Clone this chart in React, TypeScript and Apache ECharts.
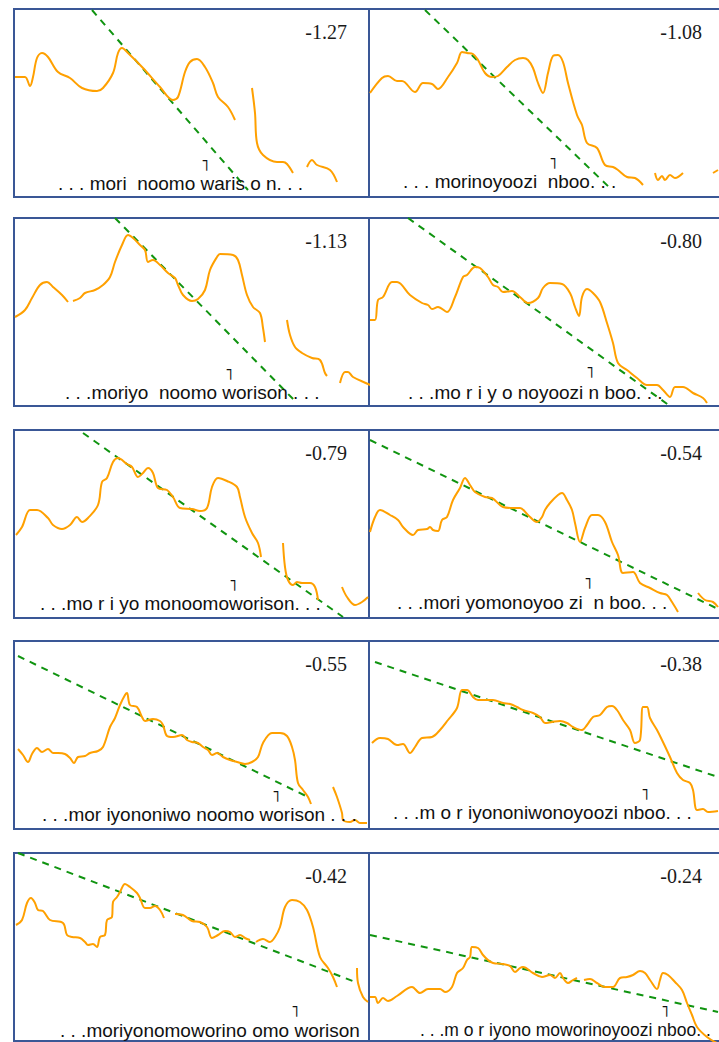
import React, { useEffect, useRef } from "react";
import * as echarts from "echarts";

// panel-local units: x = time step, y = pitch height above panel floor
const contour1 = [
  [[1,120],[11,120],[16,111],[19,120],[23,139],[28,144],[34,140],[44,125],[56,119],[68,109],[83,106],[89,109],[99,124],[104,144],[108,149],[114,144],[129,129],[146,110],[159,97],[164,100],[171,125],[176,135],[183,138],[191,130],[199,114],[204,100],[214,90],[221,77]],
  [[238,109],[241,84],[243,54],[249,42],[263,35],[269,35],[273,33],[279,24]],
  [[293,30],[298,37],[303,32],[316,27],[323,15]],
];
const trend1 = [[78,187],[234,7]];

const contour2 = [
  [[1,104],[13,119],[19,121],[28,116],[33,116],[46,105],[54,114],[63,113],[69,108],[79,120],[88,134],[93,145],[98,144],[104,143],[109,137],[116,124],[123,120],[129,121],[138,130],[146,137],[154,139],[159,137],[164,129],[169,114],[174,104],[179,124],[184,141],[189,142],[194,135],[199,114],[208,82],[213,72],[218,54],[228,49],[236,32],[244,30],[249,27],[258,20],[266,19],[274,12]],
  [[286,24],[289,17],[293,21],[296,17],[301,22],[306,19],[314,24]],
  [[344,24],[349,27]],
];
const trend2 = [[56,187],[243,7]];

const contour3 = [
  [[1,89],[11,96],[18,108],[26,121],[33,124],[39,119],[48,111],[54,104]],
  [[59,105],[66,108],[71,113],[81,116],[89,121],[96,129],[101,144],[108,161],[114,171],[119,168],[126,161],[131,156],[134,144],[139,146],[146,141],[154,133],[161,128],[164,121],[169,111],[178,105],[184,107],[191,116],[196,136],[203,149],[206,152],[219,151],[224,146],[228,131],[233,111],[239,99],[246,93],[249,78],[251,64]],
  [[273,86],[276,71],[281,59],[288,53],[298,48],[306,46],[311,33],[313,30]],
  [[326,23],[331,34],[334,34],[339,29],[354,22],[362,18]],
];
const trend3 = [[101,188],[283,3]];

const contour4 = [
  [[1,86],[6,86],[9,106],[14,109],[23,124],[28,124],[41,111],[53,103],[59,101],[63,97],[69,99],[78,94],[86,109],[94,129],[98,131],[106,139],[111,138],[119,129],[124,121],[129,119],[134,114],[143,115],[151,109],[159,103],[169,108],[174,118],[181,123],[193,122],[201,113],[206,99],[210,90],[213,109],[218,117],[224,113],[231,104],[238,83],[244,63],[249,43],[258,36],[268,28],[278,21],[288,21],[294,16],[301,9],[306,19],[314,19],[324,13],[334,8],[338,3]],
];
const trend4 = [[39,188],[301,0]];

const contour5 = [
  [[2,83],[8,91],[16,108],[23,108],[34,100],[39,93],[48,89],[56,93],[63,101],[68,96],[74,100],[84,113],[88,136],[93,140],[99,156],[104,160],[113,154],[118,151],[124,141],[129,145],[134,150],[139,145],[144,130],[153,128],[159,121],[166,110],[178,109],[186,107],[193,110],[198,131],[204,140],[213,137],[223,131],[226,121],[231,101],[238,85],[244,75],[247,61]],
  [[269,75],[271,51],[274,38],[279,33],[283,36],[288,35],[296,35],[301,31],[304,18]],
  [[328,31],[333,21],[341,13],[348,16],[354,21]],
];
const trend5 = [[69,185],[329,1]];

const contour6 = [
  [[1,86],[6,101],[11,108],[21,103],[29,98],[34,91],[44,83],[49,88],[58,89],[61,91],[64,88],[69,87],[73,98],[78,101],[84,118],[91,130],[96,140],[101,133],[106,126],[116,121],[123,120],[134,111],[144,110],[151,110],[159,103],[168,96],[173,101],[176,108],[181,115],[189,123],[193,125],[198,118],[203,108],[206,95],[211,76],[216,90],[223,103],[229,103],[236,96],[243,76],[249,63],[254,45],[264,46],[271,35],[281,30],[291,25],[298,23],[303,16],[309,6]],
  [[329,25],[336,18],[344,16],[349,11]],
];
const trend6 = [[1,178],[349,9]];

const contour7 = [
  [[4,80],[9,74],[14,67],[18,75],[23,81],[28,77],[34,80],[39,76],[44,76],[51,75],[56,71],[60,66],[64,72],[71,73],[76,76],[84,78],[89,82],[96,102],[101,111],[106,124],[111,134],[113,136],[116,124],[123,122],[128,112],[131,108],[139,110],[146,108],[149,104],[153,93],[159,92],[168,94],[173,89],[178,87],[184,86],[189,82],[194,79],[198,74],[203,76],[209,72],[216,69],[223,67],[231,65],[238,67],[244,72],[249,86],[258,96],[266,96],[273,93],[278,82],[281,69],[284,46],[289,39],[294,32],[297,25]],
  [[319,42],[323,32],[328,16],[329,9],[336,7],[341,9],[346,6],[353,6]],
];
const trend7 = [[4,173],[294,32]];

const contour8 = [
  [[3,86],[11,91],[19,90],[28,84],[34,85],[41,76],[46,82],[53,91],[63,92],[71,99],[79,109],[88,121],[93,139],[98,139],[104,132],[109,129],[124,129],[134,126],[141,125],[148,122],[154,119],[164,116],[171,112],[176,106],[183,107],[191,108],[198,106],[204,102],[213,99],[218,104],[224,112],[231,114],[238,122],[243,123],[248,119],[254,109],[261,99],[266,86],[271,89],[274,122],[278,122],[281,111],[288,99],[293,89],[301,72],[308,56],[314,49],[321,46],[324,39],[328,19],[334,20],[339,17],[349,18]],
];
const trend8 = [[6,167],[349,52]];

const contour9 = [
  [[2,116],[8,121],[13,138],[17,143],[21,138],[24,131],[29,130],[36,121],[49,118],[53,106],[58,104],[66,103],[71,99],[74,96],[79,97],[83,94],[86,104],[91,106],[93,121],[98,124],[99,139],[103,144],[106,149],[111,157],[116,154],[123,148],[126,143],[131,133],[136,133],[141,135],[146,131],[150,123]],
  [[161,127],[169,126],[178,120],[186,119],[193,114],[198,103],[204,106],[211,110],[216,109],[221,104],[226,106],[231,103],[236,101]],
  [[242,99],[249,102],[256,99],[261,104],[266,114],[271,134],[278,141],[286,139],[293,131],[299,114],[306,84],[314,73],[319,64],[323,54]],
  [[343,73],[344,58],[349,44],[354,39]],
];
const trend9 = [[4,188],[344,58]];

const contour10 = [
  [[1,44],[6,44],[9,38],[14,43],[19,40],[28,45],[43,54],[51,48],[59,52],[71,52],[76,49],[83,54],[88,68],[94,73],[98,81],[101,84],[103,94],[109,93],[114,86],[119,81],[124,78],[134,77],[141,75],[146,69],[151,73],[154,74],[164,68],[173,64],[181,66],[186,63],[191,68],[194,63],[199,58],[204,61],[208,63]],
  [[215,61],[221,62],[228,58],[236,54],[244,54],[251,63],[258,64],[264,66],[271,70],[276,68],[281,61],[288,52],[291,61],[294,68],[299,66],[306,59],[313,51],[318,38],[323,26],[328,14],[338,4],[348,-2]],
];
const trend10 = [[1,106],[349,29]];

const contours = [contour1, contour2, contour3, contour4, contour5, contour6, contour7, contour8, contour9, contour10];
const trends = [trend1, trend2, trend3, trend4, trend5, trend6, trend7, trend8, trend9, trend10];

const slopes = ["-1.27", "-1.08", "-1.13", "-0.80", "-0.79", "-0.54", "-0.55", "-0.38", "-0.42", "-0.24"];

const transcripts = [
  ". . . mori  noomo waris o n. . .",
  ". . . morinoyoozi  nboo. . .",
  ". . .moriyo  noomo worison . . .",
  ". . .mo r i y o noyoozi n boo. . .",
  ". . .mo r i yo monoomoworison. . .",
  ". . .mori yomonoyoo zi  n boo. . .",
  ". . .mor iyononiwo noomo worison . . .",
  ". . .m o r iyononiwonoyoozi nboo. . .",
  ". . .moriyonomoworino omo worison",
  ". . .m o r iyono moworinoyoozi nboo. .",
];
const accentMark = "˥";

// layout
const PANEL_W = 355;
const PANEL_H = 188;
const COL_LEFT = [14, 369];
const ROW_TOP = [9, 218, 430, 641, 853];
const TEXT_POS = [
  [58, 183], [403, 181], [65, 392], [408, 392], [40, 603],
  [397, 602], [42, 814], [393, 812], [60, 1030], [420, 1030],
];
const TEXT_SIZE = [19, 19, 19, 19, 19, 19, 19, 19, 19, 17.5];
const ACCENT_POS = [
  [205, 165], [553, 163], [229, 374], [590, 372], [233, 585],
  [588, 583], [276, 796], [645, 794], [295, 1011], [665, 1011],
];

export default function App() {
  const ref = useRef<HTMLDivElement>(null);
  useEffect(() => {
    if (!ref.current) return;
    const chart = echarts.init(ref.current, undefined, { renderer: "svg" });
    const grid: any[] = [];
    const xAxis: any[] = [];
    const yAxis: any[] = [];
    const series: any[] = [];
    const graphic: any[] = [];
    for (let i = 0; i < 10; i++) {
      const row = Math.floor(i / 2);
      const col = i % 2;
      const left = COL_LEFT[col];
      const top = ROW_TOP[row];
      grid.push({
        left, top, width: PANEL_W, height: PANEL_H,
        show: true, borderColor: "#3a5796", borderWidth: 2,
        backgroundColor: "transparent", containLabel: false,
        outerBoundsMode: "none",
      });
      xAxis.push({ type: "value", gridIndex: i, min: 0, max: PANEL_W, show: false });
      yAxis.push({ type: "value", gridIndex: i, min: 0, max: PANEL_H, show: false });
      contours[i].forEach((seg) => {
        series.push({
          type: "line", xAxisIndex: i, yAxisIndex: i, data: seg,
          smooth: 0.35, symbol: "none", clip: false, silent: true,
          lineStyle: { color: "#FFA000", width: 2 },
          z: 3,
        });
      });
      series.push({
        type: "line", xAxisIndex: i, yAxisIndex: i, data: trends[i],
        symbol: "none", clip: false, silent: true,
        lineStyle: { color: "#109410", width: 2, type: [7, 6] },
        z: 2,
      });
      graphic.push({
        type: "text", x: left + 333, y: top + 23,
        style: {
          text: slopes[i], fontFamily: "Liberation Serif", fontSize: 20, fill: "#1a1a1a",
          align: "right", textAlign: "right", verticalAlign: "middle", textVerticalAlign: "middle",
        },
        z: 10,
      });
      graphic.push({
        type: "text", x: TEXT_POS[i][0], y: TEXT_POS[i][1],
        style: {
          text: transcripts[i], fontFamily: "Liberation Sans", fontSize: TEXT_SIZE[i], fill: "#111",
          align: "left", textAlign: "left", verticalAlign: "middle", textVerticalAlign: "middle",
        },
        z: 10,
      });
      graphic.push({
        type: "text", x: ACCENT_POS[i][0], y: ACCENT_POS[i][1],
        style: {
          text: accentMark, fontFamily: "DejaVu Sans", fontSize: 16, fill: "#111",
          align: "center", textAlign: "center", verticalAlign: "middle", textVerticalAlign: "middle",
        },
        z: 10,
      });
    }
    chart.setOption({
      animation: false,
      backgroundColor: "#ffffff",
      grid, xAxis, yAxis, series, graphic,
    });
    return () => chart.dispose();
  }, []);
  return (
    <div
      ref={ref}
      style={{ position: "absolute", left: 0, top: 0, width: 719, height: 1042, overflow: "hidden" }}
    />
  );
}
